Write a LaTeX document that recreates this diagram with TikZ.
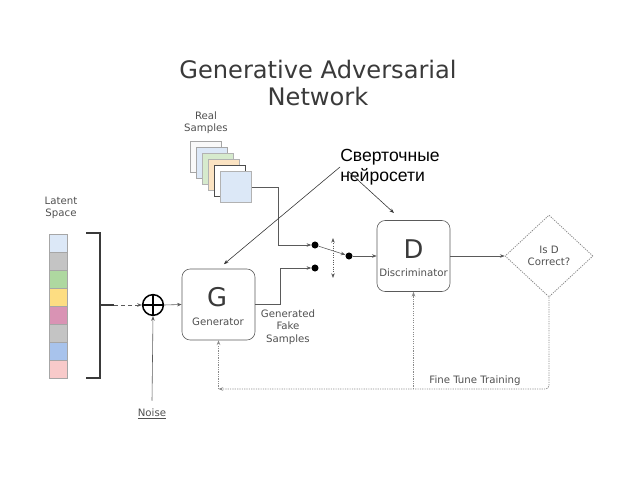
\documentclass[tikz,border=0pt]{standalone}
\usepackage{fontspec}
\setmainfont{DejaVu Sans}
\newfontfamily\rufont{Liberation Sans}
\usetikzlibrary{arrows.meta, positioning, shapes.geometric}

\definecolor{titlegray}{HTML}{3A3A3A}
\definecolor{txtgray}{HTML}{505050}
\definecolor{linegray}{HTML}{5A5A5A}
\definecolor{dotgray}{HTML}{8A8A8A}
\definecolor{paleblue}{HTML}{DCE8F7}
\definecolor{palegreen}{HTML}{D6EACD}
\definecolor{paleorange}{HTML}{FBE3C2}
\definecolor{latgray}{HTML}{C4C4C4}
\definecolor{latgreen}{HTML}{AED8A0}
\definecolor{latyellow}{HTML}{FDDD82}
\definecolor{latpink}{HTML}{D993B4}
\definecolor{latblue}{HTML}{A8C3EC}
\definecolor{latrose}{HTML}{F8CACA}

\begin{document}
\begin{tikzpicture}[x=0.03cm, y=-0.03cm, >={Stealth[length=4pt,width=3pt]},
    every node/.style={text=txtgray},
    conn/.style={draw=linegray, line width=0.5pt},
    fb/.style={draw=dotgray, line width=0.7pt, dash pattern=on 1pt off 1pt},
    block/.style={draw=linegray, line width=0.5pt, rounded corners=7pt, minimum width=2.19cm, minimum height=2.13cm},
    bigletter/.style={font=\fontsize{22}{22}\selectfont, text=titlegray},
    small/.style={font=\fontsize{8.7}{10.5}\selectfont, align=center},
    sample/.style={draw, line width=0.5pt, minimum size=0.93cm, inner sep=0pt},
    latbox/.style={draw=gray!70, line width=0.4pt, minimum size=0.54cm, inner sep=0pt},
    dot/.style={circle, fill=black, inner sep=0pt, minimum size=6pt}]
\useasboundingbox (0,0) rectangle (640,480);

% title
\node[font=\fontsize{20.6}{23}\selectfont, text=titlegray, align=center] (title) at (318,83) {Generative Adversarial\\Network};

% real samples
\node[small] (reallbl) at (206,123) {Real\\Samples};
\foreach \f/\b [count=\i] in {gray!5/gray!70, paleblue/gray!70, palegreen/gray!60, paleorange/gray!60, white/black!70, paleblue/gray!60}
  \node[sample, fill=\f, draw=\b] (real\i) at (206+6*\i-6, 157+6*\i-6) {};

% latent space
\node[small] (latlbl) at (61,208) {Latent\\Space};
\foreach \f [count=\i] in {paleblue, latgray, latgreen, latyellow, latpink, latgray, latblue, latrose}
  \node[latbox, fill=\f] (lat\i) at (58, 243+18*\i-18) {};
\draw[titlegray, line width=0.9pt] (86,233) -- (100,233) -- (100,378) -- (86,378);
\coordinate (brk) at (100,305);
\coordinate (brkend) at (114,305);
\draw[titlegray, line width=0.9pt] (brk) -- (brkend);

% sum with noise
\node[circle, draw=black, line width=1.3pt, minimum size=0.62cm, inner sep=0pt] (plus) at (153,305) {};
\draw[black, line width=1.3pt] (plus.north) -- (plus.south) (plus.west) -- (plus.east);
\draw[conn, ->, dashed] (brkend) -- (plus.west);
\node[small] (noise) at (152,414) {\underline{Noise}};
\draw[conn, ->] (noise.north) ++(0,-4) -- (plus.south);

% generator
\node[block] (gen) at (218.5,304.5) {};
\node[bigletter] (gbig) at (217,297) {G};
\node[small] (glbl) at (218,322) {Generator};
\draw[conn, ->] (plus.east) -- (gen.west);
\node[small] (fake) at (288,327) {Generated\\Fake\\Samples};

% switch
\node[dot] (dA) at (315,245) {};
\node[dot] (dB) at (315,268) {};
\node[dot] (dC) at (349,256) {};
\draw[conn, ->] (real6.east) -- (278,187) |- (dA);
\draw[conn, ->] (gen.east) -- (280,304.5) |- (dB);
\draw[conn, ->] (dA) -- (dC);
\coordinate (swtop) at (333,238);
\coordinate (swbot) at (333,278);
\draw[fb, draw=linegray, <->] (swtop) -- (swbot);

% discriminator
\node[block] (disc) at (413.5,256) {};
\node[bigletter] (dbig) at (413.5,249) {D};
\node[small] (dlbl) at (413.5,273) {Discriminator};
\draw[conn, ->] (dC) -- (disc.west);

% check
\node[diamond, fb, minimum width=2.64cm, minimum height=2.46cm, inner sep=0pt, small] (check) at (549,256) {Is D\\Correct?};
\draw[conn, ->] (disc.east) -- (check.west);

% fine tune loop
\coordinate (fbcorner) at (218.5,389);
\draw[fb, ->, rounded corners=3pt] (check.south) |- (fbcorner);
\draw[fb, ->] (fbcorner) -- (gen.south);
\draw[fb, ->] (disc.south |- fbcorner) -- (disc.south);
\node[small] (finetune) at (475,381) {Fine Tune Training};

% annotation
\node[font=\rufont\fontsize{15}{17}\selectfont, text=black, align=left, inner sep=0pt] (cnn) at (390,167) {Сверточные\\нейросети};
\coordinate (cnnB) at (348,171);
\coordinate (dtip) at (394,213);
\draw[->, black!80, line width=0.5pt, shorten >=6pt] (cnn.west) -- (gen.north);
\draw[->, black!80, line width=0.5pt] (cnnB) -- (dtip);
\end{tikzpicture}
\end{document}
